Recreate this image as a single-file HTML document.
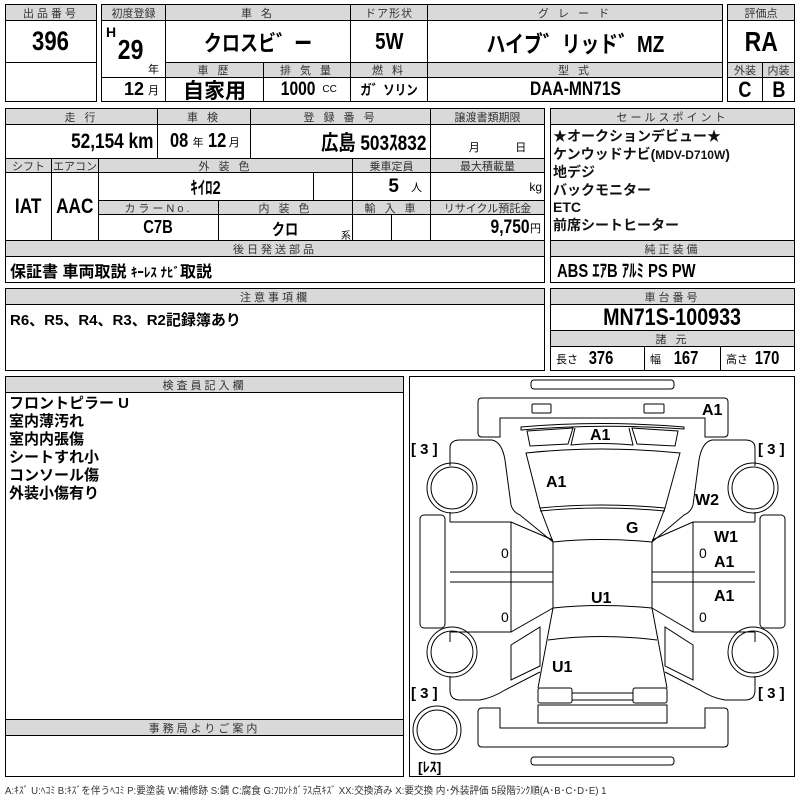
<!DOCTYPE html>
<html><head><meta charset="utf-8"><style>
body{margin:0;width:800px;height:800px;background:#fff;position:relative;overflow:hidden;font-family:"Liberation Sans","Noto Sans CJK JP",sans-serif;}
.c{position:absolute;border:1px solid #000;box-sizing:border-box;display:flex;align-items:center;justify-content:center;white-space:nowrap;overflow:hidden}
.h{background:#d9d9d9;font-size:11px;letter-spacing:3px;color:#333;}
.b{font-weight:bold;font-family:"Liberation Sans Narrow","Liberation Sans","Noto Sans CJK JP",sans-serif;}
.n{display:inline-block;transform:scaleX(.82)}
.t{position:absolute;white-space:nowrap;font-family:"Liberation Sans Narrow","Liberation Sans","Noto Sans CJK JP",sans-serif;font-weight:bold}
svg{position:absolute;left:0;top:0}
</style></head><body>
<div class="c h" style="left:5px;top:4px;width:92px;height:17px">出品番号</div>
<div class="c b" style="left:5px;top:20px;width:92px;height:43px;font-size:27px"><span class="n">396</span></div>
<div class="c" style="left:5px;top:62px;width:92px;height:40px"></div>
<div class="c h" style="left:101px;top:4px;width:65px;height:17px;letter-spacing:0">初度登録</div>
<div class="c h" style="left:165px;top:4px;width:186px;height:17px">車 名</div>
<div class="c h" style="left:350px;top:4px;width:78px;height:17px;letter-spacing:1px">ドア形状</div>
<div class="c h" style="left:427px;top:4px;width:296px;height:17px">グ レ ー ド</div>
<div class="c" style="left:101px;top:20px;width:65px;height:82px"></div>
<div class="t" style="left:106px;top:24px;font-size:14px">H</div>
<div class="t" style="left:115px;top:34px;font-size:28px"><span class="n">29</span></div>
<div class="t" style="left:148px;top:61px;font-size:11px;font-weight:normal">年</div>
<div class="c" style="left:101px;top:77px;width:65px;height:25px;justify-content:flex-end;padding-right:6px"><span class="b" style="font-size:18px">12</span><span style="font-size:11px;margin-left:4px">月</span></div>
<div class="c b" style="left:165px;top:20px;width:186px;height:43px;font-size:22px"><span class="n">クロスビ゛ー</span></div>
<div class="c b" style="left:350px;top:20px;width:78px;height:43px;font-size:23px"><span class="n">5W</span></div>
<div class="c b" style="left:427px;top:20px;width:296px;height:43px;font-size:23px"><span class="n">ハイブ゛リッド゛MZ</span></div>
<div class="c h" style="left:165px;top:62px;width:99px;height:16px">車 歴</div>
<div class="c h" style="left:263px;top:62px;width:88px;height:16px">排 気 量</div>
<div class="c h" style="left:350px;top:62px;width:78px;height:16px">燃 料</div>
<div class="c h" style="left:427px;top:62px;width:296px;height:16px">型 式</div>
<div class="c b" style="left:165px;top:77px;width:99px;height:25px;font-size:21px">自家用</div>
<div class="c" style="left:263px;top:77px;width:88px;height:25px"><span class="b n" style="font-size:19px">1000</span><span style="font-size:10px;margin-left:3px">CC</span></div>
<div class="c b" style="left:350px;top:77px;width:78px;height:25px;font-size:14px"><span class="n">ガ゛ソリン</span></div>
<div class="c b" style="left:427px;top:77px;width:296px;height:25px;font-size:19px"><span class="n">DAA-MN71S</span></div>
<div class="c h" style="left:727px;top:4px;width:68px;height:17px;letter-spacing:0">評価点</div>
<div class="c b" style="left:727px;top:20px;width:68px;height:43px;font-size:28px"><span class="n">RA</span></div>
<div class="c h" style="left:727px;top:62px;width:36px;height:16px;letter-spacing:0">外装</div>
<div class="c h" style="left:762px;top:62px;width:33px;height:16px;letter-spacing:0">内装</div>
<div class="c b" style="left:727px;top:77px;width:36px;height:25px;font-size:22px"><span class="n">C</span></div>
<div class="c b" style="left:762px;top:77px;width:33px;height:25px;font-size:22px"><span class="n">B</span></div>
<div class="c h" style="left:5px;top:108px;width:153px;height:17px">走 行</div>
<div class="c h" style="left:157px;top:108px;width:94px;height:17px">車 検</div>
<div class="c h" style="left:250px;top:108px;width:181px;height:17px">登 録 番 号</div>
<div class="c h" style="left:430px;top:108px;width:115px;height:17px;letter-spacing:0">譲渡書類期限</div>
<div class="c" style="left:5px;top:124px;width:153px;height:35px;justify-content:flex-end;padding-right:4px"><span class="b n" style="font-size:21px;transform-origin:right">52,154 km</span></div>
<div class="c" style="left:157px;top:124px;width:94px;height:35px"><span class="b n" style="font-size:20px">08</span><span style="font-size:11px;margin:0 2px">年</span><span class="b n" style="font-size:20px">12</span><span style="font-size:11px;margin-left:1px">月</span></div>
<div class="c" style="left:250px;top:124px;width:181px;height:35px;justify-content:flex-end;padding-right:4px"><span class="b n" style="font-size:21px;transform-origin:right">広島 503ｽ832</span></div>
<div class="c" style="left:430px;top:124px;width:115px;height:35px;align-items:flex-end;justify-content:space-around;font-size:11px;padding-bottom:3px"><span style="margin-left:20px">月</span><span>日</span></div>
<div class="c h" style="left:5px;top:158px;width:47px;height:15px;letter-spacing:0">シフト</div>
<div class="c h" style="left:51px;top:158px;width:48px;height:15px;letter-spacing:0">エアコン</div>
<div class="c h" style="left:98px;top:158px;width:255px;height:15px">外 装 色</div>
<div class="c h" style="left:352px;top:158px;width:79px;height:15px;letter-spacing:0">乗車定員</div>
<div class="c h" style="left:430px;top:158px;width:115px;height:15px;letter-spacing:0">最大積載量</div>
<div class="c b" style="left:5px;top:172px;width:47px;height:69px;font-size:21px"><span class="n">IAT</span></div>
<div class="c b" style="left:51px;top:172px;width:48px;height:69px;font-size:21px"><span class="n">AAC</span></div>
<div class="c b" style="left:98px;top:172px;width:216px;height:29px;font-size:18px"><span class="n">ｷｲﾛ2</span></div>
<div class="c" style="left:313px;top:172px;width:40px;height:29px"></div>
<div class="c" style="left:352px;top:172px;width:79px;height:29px;justify-content:flex-end;padding-right:8px"><span class="b" style="font-size:19px">5</span><span style="font-size:11px;margin-left:12px">人</span></div>
<div class="c" style="left:430px;top:172px;width:115px;height:29px;justify-content:flex-end;padding-right:2px;font-size:12px">kg</div>
<div class="c h" style="left:98px;top:200px;width:121px;height:15px">カラーNo.</div>
<div class="c h" style="left:218px;top:200px;width:135px;height:15px">内 装 色</div>
<div class="c h" style="left:352px;top:200px;width:79px;height:15px">輸 入 車</div>
<div class="c h" style="left:430px;top:200px;width:115px;height:15px;letter-spacing:0">リサイクル預託金</div>
<div class="c b" style="left:98px;top:214px;width:121px;height:27px;font-size:18px"><span class="n">C7B</span></div>
<div class="c b" style="left:218px;top:214px;width:135px;height:27px;font-size:16px"><span class="n">クロ</span></div>
<div class="t" style="left:341px;top:227px;font-size:10px;font-weight:normal">系</div>
<div class="c" style="left:352px;top:214px;width:40px;height:27px"></div>
<div class="c" style="left:391px;top:214px;width:40px;height:27px"></div>
<div class="c" style="left:430px;top:214px;width:115px;height:27px;justify-content:flex-end;padding-right:3px"><span class="b n" style="font-size:19px;transform-origin:right">9,750</span><span style="font-size:11px">円</span></div>
<div class="c h" style="left:5px;top:240px;width:540px;height:17px">後日発送部品</div>
<div class="c" style="left:5px;top:256px;width:540px;height:27px;justify-content:flex-start;padding-left:4px"><span class="b" style="font-size:16px">保証書 車両取説 <span style="font-size:13px">ｷｰﾚｽ ﾅﾋﾞ</span>取説</span></div>
<div class="c h" style="left:550px;top:108px;width:245px;height:17px">セールスポイント</div>
<div class="c" style="left:550px;top:124px;width:245px;height:117px;display:block;padding:3px 0 0 2px;font-size:14px;line-height:17.5px;font-weight:bold;color:#111">★オークションデビュー★<br>ケンウッドナビ(<span style="font-size:12px">MDV-D710W</span>)<br>地デジ<br>バックモニター<br>ETC<br>前席シートヒーター</div>
<div class="c h" style="left:550px;top:240px;width:245px;height:17px">純正装備</div>
<div class="c" style="left:550px;top:256px;width:245px;height:27px;justify-content:flex-start;padding-left:6px"><span class="b n" style="font-size:18px;transform-origin:left">ABS ｴｱB ｱﾙﾐ PS PW</span></div>
<div class="c h" style="left:5px;top:288px;width:540px;height:17px">注意事項欄</div>
<div class="c" style="left:5px;top:304px;width:540px;height:67px;align-items:flex-start;justify-content:flex-start;padding:4px 0 0 4px"><span class="b" style="font-size:15px">R6、R5、R4、R3、R2記録簿あり</span></div>
<div class="c h" style="left:550px;top:288px;width:245px;height:17px">車台番号</div>
<div class="c b" style="left:550px;top:304px;width:245px;height:27px;font-size:24px"><span class="n">MN71S-100933</span></div>
<div class="c h" style="left:550px;top:330px;width:245px;height:17px">諸 元</div>
<div class="c" style="left:550px;top:346px;width:95px;height:25px;justify-content:flex-start;padding-left:5px"><span style="font-size:11px">長さ</span><span class="b n" style="font-size:18px;margin-left:8px">376</span></div>
<div class="c" style="left:644px;top:346px;width:77px;height:25px;justify-content:flex-start;padding-left:5px"><span style="font-size:11px">幅</span><span class="b n" style="font-size:18px;margin-left:10px">167</span></div>
<div class="c" style="left:720px;top:346px;width:75px;height:25px;justify-content:flex-start;padding-left:5px"><span style="font-size:11px">高さ</span><span class="b n" style="font-size:18px;margin-left:4px">170</span></div>
<div class="c h" style="left:5px;top:376px;width:399px;height:17px">検査員記入欄</div>
<div class="c" style="left:5px;top:392px;width:399px;height:328px;display:block;padding:2px 0 0 3px;font-size:15px;line-height:18px;font-weight:bold">フロントピラー U<br>室内薄汚れ<br>室内内張傷<br>シートすれ小<br>コンソール傷<br>外装小傷有り</div>
<div class="c h" style="left:5px;top:719px;width:399px;height:17px">事務局よりご案内</div>
<div class="c" style="left:5px;top:735px;width:399px;height:42px"></div>
<div class="t" style="left:5px;top:782px;font-size:10px;font-weight:normal;color:#333;transform:scaleX(.96);transform-origin:left">A:ｷｽﾞ U:ﾍｺﾐ B:ｷｽﾞを伴うﾍｺﾐ P:要塗装 W:補修跡 S:錆 C:腐食 G:ﾌﾛﾝﾄｶﾞﾗｽ点ｷｽﾞ XX:交換済み X:要交換 内･外装評価 5段階ﾗﾝｸ順(A･B･C･D･E) 1</div>
<div class="c" style="left:409px;top:376px;width:386px;height:401px"></div>
<svg width="800" height="800" viewBox="0 0 800 800" fill="none" stroke="#000" stroke-width="1">
<rect x="531" y="380" width="143" height="9" rx="3"/>
<path d="M482,398 H724 Q728,398 728,402 V433 Q728,437 724,437 H705 V418 H500 V437 H482 Q478,437 478,433 V402 Q478,398 482,398 Z"/>
<rect x="532" y="404" width="19" height="9" rx="1"/>
<rect x="644" y="404" width="20" height="9" rx="1"/>
<path d="M521,427 Q600,420 684,427 L684,429 Q600,423 521,430 Z"/>
<path d="M527,431 L573,428 L568,444 L530,446 Z"/>
<path d="M632,428 L678,431 L675,446 L637,444 Z"/>
<path d="M575,428 L571,445 Q600,442 633,445 L629,428"/>
<path d="M526,453 Q600,445 680,453 L665,508 Q600,502 540,508 Z"/>
<path d="M540,511 Q600,505 665,511"/>
<path d="M540,508 L553,542 Q600,537 652,542 L665,508"/>
<path d="M553,542 V608 Q600,603 652,608 V542"/>
<path d="M553,608 L538,688 M652,608 L667,688"/>
<path d="M548,640 Q600,633 657,640"/>
<rect x="538" y="688" width="34" height="15" rx="2"/>
<rect x="633" y="688" width="34" height="15" rx="2"/>
<path d="M572,693 H633 M572,700 H633"/>
<rect x="538" y="705" width="129" height="18"/>
<path d="M482,708 H500 V728 H705 V708 H724 Q728,708 728,712 V743 Q728,747 724,747 H482 Q478,747 478,743 V712 Q478,708 482,708 Z"/>
<rect x="531" y="757" width="143" height="8" rx="3"/>
<path d="M450,466 V448 Q450,440 460,440 H492 Q502,442 505,460 L511,505 Q513,512 520,515 L553,542"/>
<path d="M450,522 H511 L553,540 M511,522 V632 M450,572 H553 M450,582 H553 M450,632 H511 L553,608"/>
<path d="M450,512 V522 M450,632 V642"/>
<path d="M511,645 L540,627 V666 L511,680 Z"/>
<path d="M450,676 V690 Q450,700 460,700 H480 Q492,698 505,690 L540,672"/>
<rect x="420" y="515" width="25" height="113" rx="4"/>
<circle cx="452" cy="488" r="25"/><circle cx="452" cy="488" r="21"/>
<circle cx="452" cy="652" r="25"/><circle cx="452" cy="652" r="21"/>
<circle cx="437" cy="730" r="24"/><circle cx="437" cy="730" r="20"/>
<path d="M755,466 V448 Q755,440 745,440 H712 Q702,442 699,460 L693,505 Q691,512 684,515 L652,542"/>
<path d="M755,522 H693 L652,540 M693,522 V632 M755,572 H652 M755,582 H652 M755,632 H693 L652,608"/>
<path d="M755,512 V522 M755,632 V642"/>
<path d="M693,645 L665,627 V666 L693,680 Z"/>
<path d="M755,676 V690 Q755,700 745,700 H725 Q712,698 700,690 L665,672"/>
<rect x="760" y="515" width="25" height="113" rx="4"/>
<circle cx="753" cy="488" r="25"/><circle cx="753" cy="488" r="21"/>
<circle cx="753" cy="652" r="25"/><circle cx="753" cy="652" r="21"/>
<g stroke="none" fill="#000" font-family="Liberation Sans Narrow, Liberation Sans, Noto Sans CJK JP, sans-serif" font-weight="bold" font-size="16">
<text x="702" y="415">A1</text>
<text x="590" y="440">A1</text>
<text x="546" y="487">A1</text>
<text x="626" y="533">G</text>
<text x="695" y="505">W2</text>
<text x="714" y="542">W1</text>
<text x="714" y="567">A1</text>
<text x="714" y="601">A1</text>
<text x="591" y="603">U1</text>
<text x="552" y="672">U1</text>
<g font-size="14" font-weight="normal"><text x="501" y="558">0</text><text x="501" y="622">0</text><text x="699" y="558">0</text><text x="699" y="622">0</text></g>
<g font-size="15"><text x="411" y="454">[ 3 ]</text><text x="758" y="454">[ 3 ]</text><text x="411" y="698">[ 3 ]</text><text x="758" y="698">[ 3 ]</text><text x="418" y="772" font-size="14">[ﾚｽ]</text></g>
</g>
</svg>
</body></html>
